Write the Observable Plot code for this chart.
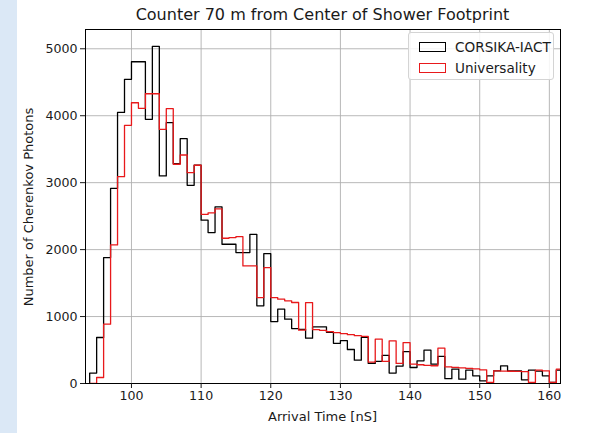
<!DOCTYPE html>
<html>
<head>
<meta charset="utf-8">
<script src="https://cdn.jsdelivr.net/npm/d3@7"></script>
<script src="https://cdn.jsdelivr.net/npm/@observablehq/plot@0.6"></script>
<style>
  body { margin: 0; background: #fff; }
  #wrap { position: relative; width: 589px; height: 433px; overflow: hidden; font-family: "DejaVu Sans", sans-serif; color: #1a1a1a; }
  #strip { position: absolute; left: 0; top: 0; width: 17px; height: 433px; background: #dbe8f6; }
  #title { position: absolute; left: 85px; width: 475px; top: 5px; text-align: center; font-size: 16px; line-height: 20px; }
  #xlabel { position: absolute; left: 85px; width: 475px; top: 408px; text-align: center; font-size: 13px; line-height: 17px; }
  #ylabel { position: absolute; left: 28px; top: 207px; transform: translate(-50%, -50%) rotate(-90deg); white-space: nowrap; font-size: 13px; }
  #legend { position: absolute; left: 408px; top: 32px; width: 146px; height: 48px; box-sizing: border-box; border: 1px solid #d4d4d4; border-radius: 3px; background: rgba(255,255,255,0.85); font-size: 13.6px; }
  .entry { position: absolute; left: 10px; height: 14px; display: flex; align-items: center; white-space: nowrap; }
  .patch { flex: none; width: 27px; height: 10px; box-sizing: border-box; border: 1.4px solid; margin-right: 9px; }
</style>
</head>
<body>
<div id="wrap">
  <div id="strip"></div>
  <div id="chart"></div>
  <div id="title">Counter 70 m from Center of Shower Footprint</div>
  <div id="xlabel">Arrival Time [nS]</div>
  <div id="ylabel">Number of Cherenkov Photons</div>
  <div id="legend">
    <div class="entry" style="top:7px"><div class="patch" style="border-color:#000"></div>CORSIKA-IACT</div>
    <div class="entry" style="top:28px"><div class="patch" style="border-color:#e8191b"></div>Universality</div>
  </div>
</div>
<script>
// Photon counts per 1 ns arrival-time bin, first bin starts at 94 ns
const binStart = 94;
const corsikaCounts = [
  155, 687, 1881, 2916, 4050, 4543, 4806, 4806, 3946, 5036,
  3100, 3896, 3284, 3657, 2961, 3260, 2440, 2254, 2637, 2080,
  2080, 1955, 1955, 2229, 1160, 1940, 925, 1110, 961, 820,
  810, 677, 846, 846, 765, 600, 640, 508, 349, 690,
  300, 330, 420, 155, 260, 475, 239, 339, 498, 289,
  405, 72, 214, 65, 199, 114, 40, 114, 189, 264,
  189, 189, 55, 199, 184, 114, 15, 200
];
const universalityCounts = [
  0, 90, 886, 2070, 3090, 3857, 4194, 4110, 4328, 4328,
  3797, 4105, 3275, 3413, 3149, 3260, 2525, 2550, 2610, 2170,
  2180, 2195, 1757, 1757, 1284, 1731, 1284, 1260, 1235, 1210,
  797, 1209, 805, 795, 775, 760, 745, 730, 715, 705,
  320, 662, 330, 637, 300, 612, 290, 280, 270, 265,
  528, 249, 240, 232, 225, 218, 205, 15, 189, 186,
  183, 180, 178, 15, 199, 190, 15, 215
];
const xTicks = [100, 110, 120, 130, 140, 150, 160];
const yTicks = [0, 1000, 2000, 3000, 4000, 5000];

// Outline of a step histogram: rise from zero, one point per bin, close at the last edge
function outline(counts) {
  const pts = [{t: binStart, n: 0}];
  counts.forEach((n, i) => pts.push({t: binStart + i, n}));
  const end = binStart + counts.length;
  pts.push({t: end, n: counts[counts.length - 1]});
  pts.push({t: end, n: 0});
  return pts;
}

const chart = Plot.plot({
  width: 589,
  height: 433,
  marginLeft: 85,
  marginRight: 29,
  marginTop: 29,
  marginBottom: 50,
  style: {fontFamily: "DejaVu Sans, sans-serif", color: "#1a1a1a", background: "transparent"},
  x: {domain: [93.4, 161.6]},
  y: {domain: [0, 5288]},
  marks: [
    Plot.gridX(xTicks, {stroke: "#b0b0b0", strokeOpacity: 1, strokeWidth: 0.9}),
    Plot.gridY(yTicks, {stroke: "#b0b0b0", strokeOpacity: 1, strokeWidth: 0.9}),
    Plot.line(outline(corsikaCounts), {x: "t", y: "n", curve: "step-after", stroke: "#000", strokeWidth: 1.3, clip: true}),
    Plot.line(outline(universalityCounts), {x: "t", y: "n", curve: "step-after", stroke: "#e8191b", strokeWidth: 1.3, clip: true}),
    Plot.frame({stroke: "#000", strokeWidth: 1}),
    Plot.axisX(xTicks, {tickSize: 5, tickPadding: 3, label: null, fontSize: 12.6, tickFormat: d => String(d)}),
    Plot.axisY(yTicks, {tickSize: 5, tickPadding: 3, label: null, fontSize: 12.6, tickFormat: d => String(d)})
  ]
});
document.getElementById("chart").appendChild(chart);
</script>
</body>
</html>
